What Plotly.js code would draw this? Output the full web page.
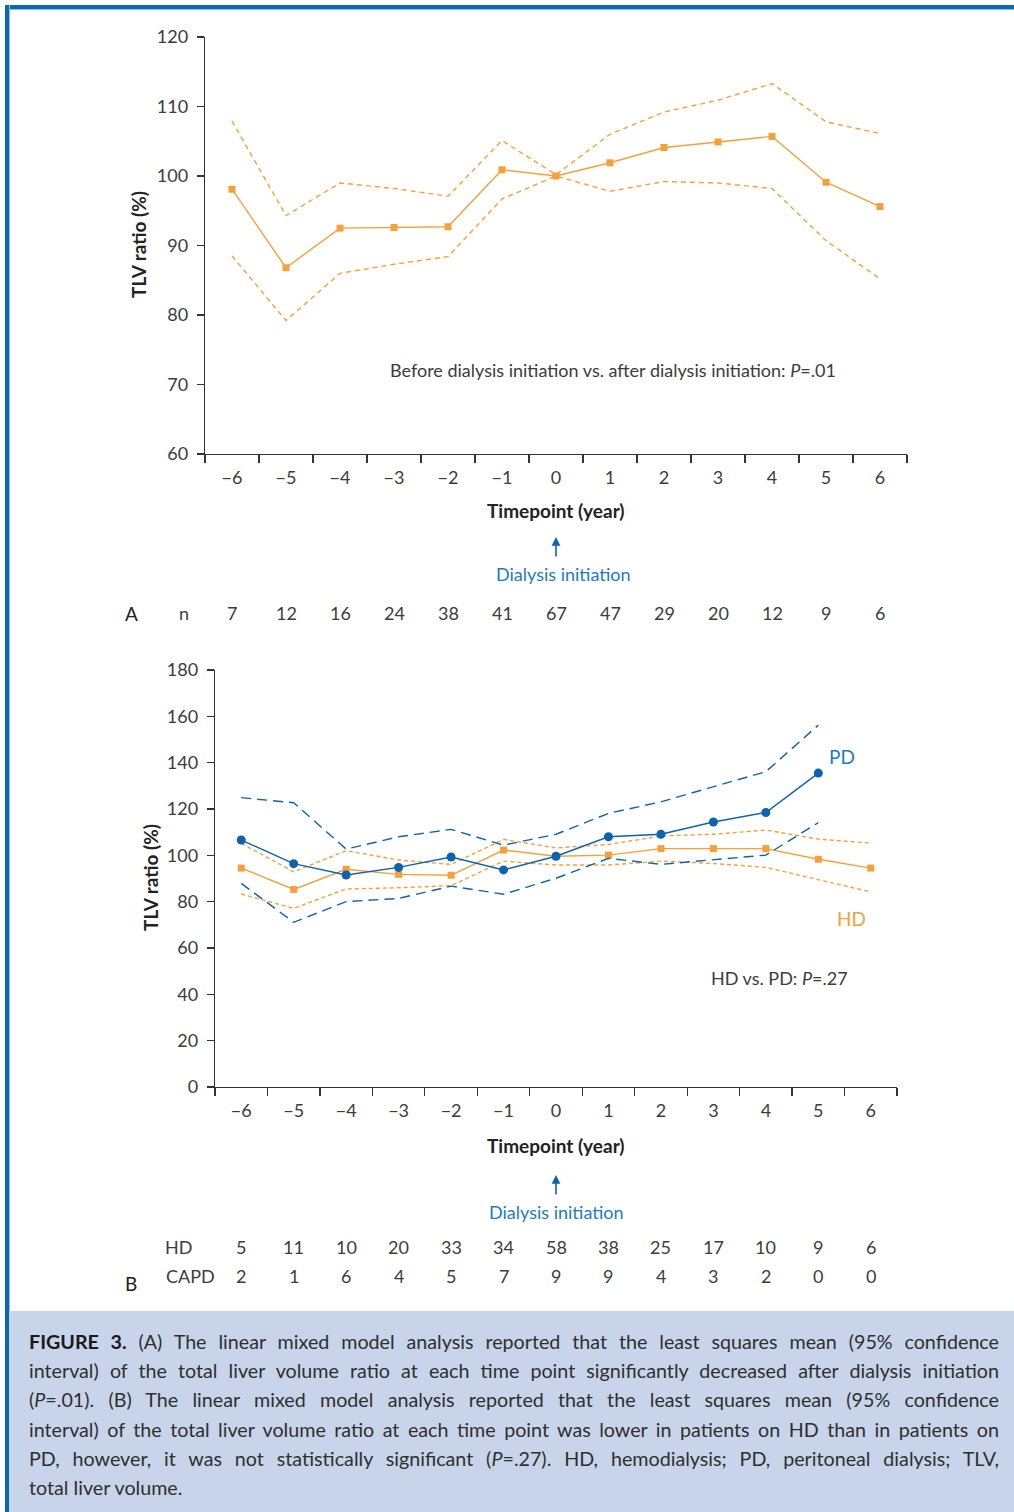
<!DOCTYPE html>
<html>
<head>
<meta charset="utf-8">
<script src="https://cdn.plot.ly/plotly-3.0.1.min.js"></script>
<style>
  html, body { margin: 0; padding: 0; background: #ffffff; }
  #wrap { position: relative; width: 1014px; height: 1512px; overflow: hidden; background: #fff; }
  #chart { position: absolute; left: 0; top: 0; width: 1014px; height: 1310px; }
  #topbar { position: absolute; left: 5px; top: 5px; width: 1009px; height: 4px; background: #0c68b1; box-shadow: 0 1px 0 #8dbde6; }
  #leftbar { position: absolute; left: 5px; top: 5px; width: 4px; height: 1507px; background: #0c68b1; box-shadow: 1px 0 0 #8dbde6; }
  #caption { position: absolute; left: 9px; top: 1311px; width: 1005px; height: 201px; background: #c8d4ea;
    box-sizing: border-box; padding: 16px 15px 0 20px; font-family: Lato, "Open Sans", sans-serif; font-size: 19.7px;
    color: #2f2f2f; line-height: 29.2px; }
  #caption .ln { white-space: nowrap; text-align: justify; text-align-last: justify; }
  #caption .ln.last { text-align-last: left; }
  #caption b { color: #1a1a1a; }
</style>
</head>
<body>
<div id="wrap">
  <div id="chart"></div>
  <div id="topbar"></div>
  <div id="leftbar"></div>
  <div id="caption">
    <div class="ln"><b>FIGURE 3.</b> (A) The linear mixed model analysis reported that the least squares mean (95% confidence</div>
    <div class="ln">interval) of the total liver volume ratio at each time point significantly decreased after dialysis initiation</div>
    <div class="ln">(<i>P</i>=.01). (B) The linear mixed model analysis reported that the least squares mean (95% confidence</div>
    <div class="ln">interval) of the total liver volume ratio at each time point was lower in patients on HD than in patients on</div>
    <div class="ln">PD, however, it was not statistically significant (<i>P</i>=.27). HD, hemodialysis; PD, peritoneal dialysis; TLV,</div>
    <div class="ln last">total liver volume.</div>
  </div>
</div>
<script>
// ---------- DATA ----------
const years = ['−6','−5','−4','−3','−2','−1','0','1','2','3','4','5','6'];

// Panel A: all patients
const aMean  = [98.1, 86.8, 92.5, 92.6, 92.7, 100.9, 100.0, 101.9, 104.1, 104.9, 105.7, 99.1, 95.6];
const aUpper = [107.9, 94.3, 99.0, 98.2, 97.1, 105.1, 100.2, 106.0, 109.2, 110.9, 113.3, 107.8, 106.1];
const aLower = [88.5, 79.2, 86.0, 87.3, 88.4, 96.7, 100.0, 97.8, 99.2, 99.0, 98.2, 90.7, 85.2];
const nA     = [7, 12, 16, 24, 38, 41, 67, 47, 29, 20, 12, 9, 6];

// Panel B: HD vs PD
const hdMean  = [94.5, 85.3, 94.0, 91.8, 91.4, 102.3, 99.6, 100.1, 102.9, 102.9, 102.9, 98.3, 94.5];
const hdUpper = [105.2, 92.9, 102.0, 98.0, 96.1, 106.9, 103.2, 104.7, 108.3, 109.1, 110.9, 107.0, 105.3];
const hdLower = [83.3, 77.1, 85.5, 86.0, 86.9, 97.5, 95.8, 95.8, 97.5, 96.5, 94.8, 89.6, 84.2];
const pdMean  = [106.6, 96.4, 91.5, 94.8, 99.3, 93.7, 99.6, 108.0, 109.1, 114.4, 118.5, 135.5, null];
const pdUpper = [124.9, 122.7, 102.7, 108.0, 111.2, 104.4, 109.1, 118.1, 123.1, 129.6, 136.1, 156.2, null];
const pdLower = [87.9, 71.1, 80.0, 81.4, 86.7, 83.2, 90.1, 98.7, 96.1, 98.1, 100.1, 114.1, null];
const nHD   = [5, 11, 10, 20, 33, 34, 58, 38, 25, 17, 10, 9, 6];
const nCAPD = [2, 1, 6, 4, 5, 7, 9, 9, 4, 3, 2, 0, 0];

// ---------- STYLE ----------
const ORANGE = '#f6a03a';
const BLUE = '#0d63ae';
const LBLUE = '#1f7bc4';
const TXT = '#3c3c3c';
const FONT = 'Lato, "Open Sans", sans-serif';
const H = 1310;
const py = p => 1 - p / H;   // pixel-from-top -> paper y

const traces = [];
function line(x, y, xa, ya, color, dash, marker) {
  const t = { x: x, y: y, xaxis: xa, yaxis: ya, type: 'scatter', hoverinfo: 'skip',
    mode: marker ? 'lines+markers' : 'lines', connectgaps: false,
    line: { color: color, width: 1.4, dash: dash || 'solid' } };
  if (marker) t.marker = marker;
  traces.push(t);
}
// Panel A
line(years, aUpper, 'x', 'y', ORANGE, '5px,4px');
line(years, aLower, 'x', 'y', ORANGE, '5px,4px');
line(years, aMean, 'x', 'y', ORANGE, 'solid', { symbol: 'square', size: 7, color: ORANGE });
// Panel B
line(years, hdUpper, 'x2', 'y2', ORANGE, '4px,3px');
line(years, hdLower, 'x2', 'y2', ORANGE, '4px,3px');
line(years, hdMean, 'x2', 'y2', ORANGE, 'solid', { symbol: 'square', size: 7, color: ORANGE });
line(years, pdUpper, 'x2', 'y2', BLUE, '10px,6px');
line(years, pdLower, 'x2', 'y2', BLUE, '10px,6px');
line(years, pdMean, 'x2', 'y2', BLUE, 'solid', { symbol: 'circle', size: 9, color: BLUE });

const xCommon = { type: 'category', categoryorder: 'array', categoryarray: years,
  range: [-0.5, years.length - 0.5], autorange: false,
  tickson: 'boundaries', ticks: 'outside', ticklen: 8, tickcolor: '#333', tickwidth: 1.2,
  showline: true, linecolor: '#333', linewidth: 1.2, showgrid: false, zeroline: false,
  tickfont: { family: FONT, size: 18, color: TXT }, ticklabelstandoff: 7, fixedrange: true };
const yCommon = { ticks: 'outside', ticklen: 7, tickcolor: '#333', tickwidth: 1.2,
  showline: true, linecolor: '#333', linewidth: 1.2, showgrid: false, zeroline: false,
  tickfont: { family: FONT, size: 18, color: TXT }, ticklabelstandoff: 5, fixedrange: true };

const ann = [];
const txt = (x, y, text, opts) => Object.assign({ x: x, y: y, xref: 'paper', yref: 'paper', text: text,
  showarrow: false, xanchor: 'center', yanchor: 'middle', font: { family: FONT, size: 18, color: TXT } }, opts || {});

// Axis titles
ann.push(txt(556 / 1014, py(510), '<b>Timepoint (year)</b>', { font: { family: FONT, size: 19, color: '#222' } }));
ann.push(txt(138 / 1014, py(245), '<b>TLV ratio (%)</b>', { textangle: -90, font: { family: FONT, size: 19, color: '#222' } }));
ann.push(txt(556 / 1014, py(1145), '<b>Timepoint (year)</b>', { font: { family: FONT, size: 19, color: '#222' } }));
ann.push(txt(150 / 1014, py(878), '<b>TLV ratio (%)</b>', { textangle: -90, font: { family: FONT, size: 19, color: '#222' } }));

// In-plot texts
ann.push(txt(613 / 1014, py(370), 'Before dialysis initiation vs. after dialysis initiation: <i>P</i>=.01'));
ann.push(txt(779 / 1014, py(978), 'HD vs. PD: <i>P</i>=.27'));
ann.push(txt(842 / 1014, py(756), 'PD', { font: { family: FONT, size: 19, color: LBLUE } }));
ann.push(txt(851 / 1014, py(918), 'HD', { font: { family: FONT, size: 19, color: ORANGE } }));

// Dialysis initiation arrows + labels
ann.push({ x: 6, y: py(537), xref: 'x', yref: 'paper', ax: 0, ay: 21, axref: 'pixel', ayref: 'pixel',
  text: '', showarrow: true, arrowhead: 2, arrowsize: 1.1, arrowwidth: 1.6, arrowcolor: BLUE });
ann.push(txt(563 / 1014, py(574), 'Dialysis initiation', { font: { family: FONT, size: 18, color: LBLUE } }));
ann.push({ x: 6, y: py(1175), xref: 'x2', yref: 'paper', ax: 0, ay: 21, axref: 'pixel', ayref: 'pixel',
  text: '', showarrow: true, arrowhead: 2, arrowsize: 1.1, arrowwidth: 1.6, arrowcolor: BLUE });
ann.push(txt(556 / 1014, py(1212), 'Dialysis initiation', { font: { family: FONT, size: 18, color: LBLUE } }));

// n rows
ann.push(txt(131 / 1014, py(613), 'A', { font: { family: FONT, size: 19, color: '#222' } }));
ann.push(txt(184 / 1014, py(613), 'n'));
nA.forEach((v, i) => ann.push(Object.assign(txt(i, py(613), String(v)), { xref: 'x' })));
ann.push(txt(178 / 1014, py(1247), 'HD'));
ann.push(txt(190 / 1014, py(1276), 'CAPD'));
ann.push(txt(131 / 1014, py(1283), 'B', { font: { family: FONT, size: 19, color: '#222' } }));
nHD.forEach((v, i) => ann.push(Object.assign(txt(i, py(1247), String(v)), { xref: 'x2' })));
nCAPD.forEach((v, i) => ann.push(Object.assign(txt(i, py(1276), String(v)), { xref: 'x2' })));

const layout = {
  width: 1014, height: H, margin: { l: 0, r: 0, t: 0, b: 0 },
  paper_bgcolor: 'rgba(0,0,0,0)', plot_bgcolor: 'rgba(0,0,0,0)', showlegend: false,
  font: { family: FONT, color: TXT },
  xaxis: Object.assign({}, xCommon, { domain: [205 / 1014, 907 / 1014], anchor: 'y' }),
  yaxis: Object.assign({}, yCommon, { domain: [py(454), py(37)], range: [60, 120], dtick: 10, anchor: 'x' }),
  xaxis2: Object.assign({}, xCommon, { domain: [215 / 1014, 897 / 1014], anchor: 'y2' }),
  yaxis2: Object.assign({}, yCommon, { domain: [py(1087), py(670)], range: [0, 180], dtick: 20, anchor: 'x2' }),
  annotations: ann
};
Plotly.newPlot('chart', traces, layout, { displayModeBar: false, staticPlot: true });
</script>
</body>
</html>
